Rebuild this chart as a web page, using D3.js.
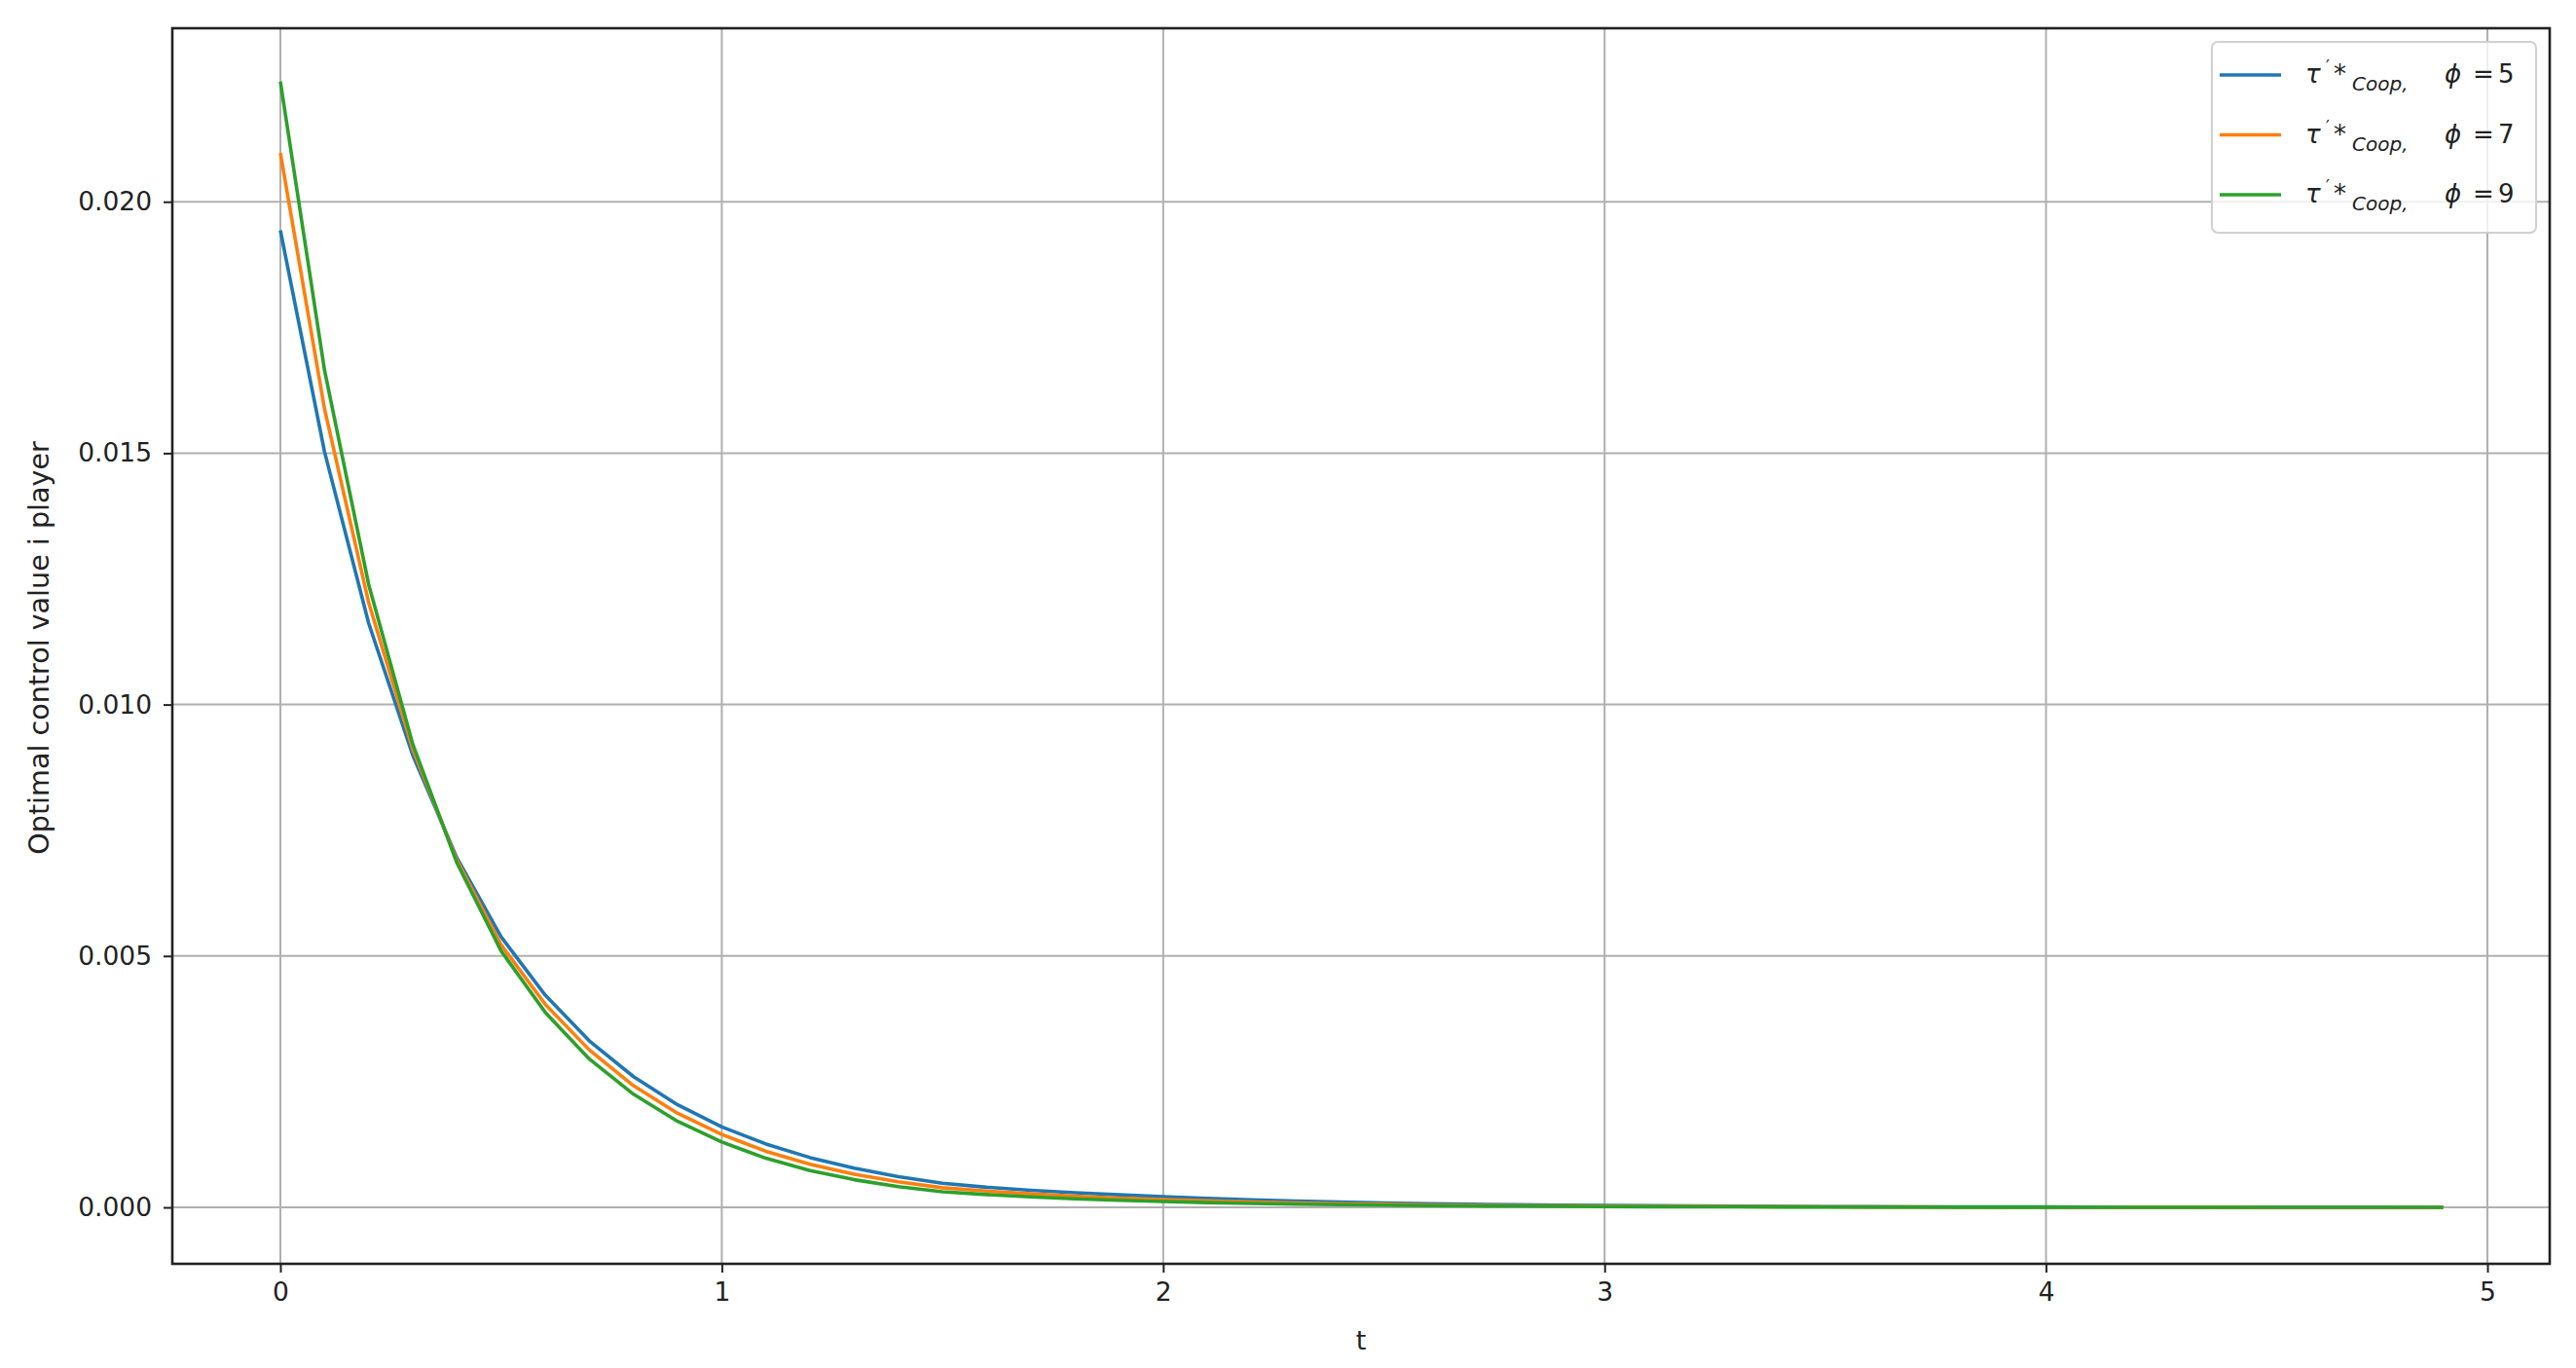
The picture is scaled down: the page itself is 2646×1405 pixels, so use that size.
<!doctype html>
<html>

<head>
  <meta charset="utf-8">
  <style>
    body { margin: 0; background: #fff; }
    text { font-family: "DejaVu Sans", sans-serif; }
  </style>
</head>

<body>
  <svg id="chart"></svg>
</body>
<script src="https://d3js.org/d3.v7.min.js"></script>
<script>
    // time grid
    const tValues = [0.0, 0.1, 0.2, 0.3, 0.4, 0.5, 0.6, 0.7, 0.8, 0.9,
      1.0, 1.1, 1.2, 1.3, 1.4, 1.5, 1.6, 1.7, 1.8, 1.9,
      2.0, 2.1, 2.2, 2.3, 2.4, 2.5, 2.6, 2.7, 2.8, 2.9,
      3.0, 3.1, 3.2, 3.3, 3.4, 3.5, 3.6, 3.7, 3.8, 3.9,
      4.0, 4.1, 4.2, 4.3, 4.4, 4.5, 4.6, 4.7, 4.8, 4.9];

    // optimal control, phi = 5
    const phi5 = [0.01943, 0.01503, 0.01162, 0.00899, 0.00695, 0.00538, 0.00422, 0.00331, 0.00260, 0.00204,
      0.00160, 0.00126, 0.00099, 0.00078, 0.00061, 0.00048, 0.00040, 0.00034, 0.00029, 0.00025,
      0.00021, 0.00018, 0.00015, 0.000125, 0.000105, 0.000088, 0.000074, 0.000062, 0.000052, 0.000044,
      0.000037, 0.000031, 0.000026, 0.000022, 0.000018, 0.000015, 0.000013, 0.000011, 0.000009, 0.000008,
      0.0000065, 0.0000055, 0.0000046, 0.0000039, 0.0000033, 0.0000027, 0.0000023, 0.0000019, 0.0000016, 0.0000014];

    // phi = 7
    const phi7 = [0.02097, 0.01588, 0.01203, 0.00911, 0.00690, 0.00522, 0.00404, 0.00313, 0.00242, 0.00187,
      0.00145, 0.001115, 0.000857, 0.000659, 0.000507, 0.00039, 0.000324, 0.000269, 0.000223, 0.000185,
      0.000154, 0.000128, 0.000106, 0.000088, 0.000073, 0.000061, 0.000050, 0.000042, 0.000035, 0.000029,
      0.000024, 0.000020, 0.0000165, 0.0000137, 0.0000114, 0.0000094, 0.0000078, 0.0000065, 0.0000054, 0.0000045,
      0.0000037, 0.0000031, 0.0000026, 0.0000021, 0.0000018, 0.0000015, 0.0000012, 0.0000010, 0.0000008, 0.0000007];

    // phi = 9
    const phi9 = [0.02239, 0.01665, 0.01239, 0.00921, 0.00685, 0.00510, 0.00388, 0.00295, 0.00225, 0.00171,
      0.00130, 0.000976, 0.000733, 0.000550, 0.000413, 0.00031, 0.000254, 0.000208, 0.000171, 0.000140,
      0.000115, 0.000094, 0.000077, 0.000063, 0.000052, 0.000043, 0.000035, 0.000029, 0.000024, 0.000019,
      0.000016, 0.000013, 0.000011, 0.0000090, 0.0000073, 0.0000060, 0.0000049, 0.0000040, 0.0000033, 0.0000027,
      0.0000022, 0.0000018, 0.0000015, 0.0000012, 0.0000010, 0.0000008, 0.0000007, 0.0000006, 0.0000005, 0.0000004];

    const phiLabels = ["5", "7", "9"];
    const xTicks = [0, 1, 2, 3, 4, 5];
    const yTicks = [0.000, 0.005, 0.010, 0.015, 0.020];

    const seriesList = [
      { phi: phiLabels[0], values: phi5, color: "#1f77b4" },
      { phi: phiLabels[1], values: phi7, color: "#ff7f0e" },
      { phi: phiLabels[2], values: phi9, color: "#2ca02c" }
    ];

    const width = 2646, height = 1405;
    const plotLeft = 177, plotRight = 2619, plotTop = 29, plotBottom = 1298;

    const svg = d3.select("#chart").attr("width", width).attr("height", height);

    // matplotlib style 5% margins
    const xScale = d3.scaleLinear().domain([-0.2448, 5.1411]).range([plotLeft, plotRight]);
    const yScale = d3.scaleLinear().domain([-0.001123, 0.023451]).range([plotBottom, plotTop]);

    // grid
    const grid = svg.append("g").attr("class", "grid");
    grid.selectAll("line.vx")
      .data(xTicks)
      .enter()
      .append("line")
      .attr("x1", d => xScale(d)).attr("x2", d => xScale(d))
      .attr("y1", plotTop).attr("y2", plotBottom)
      .attr("stroke", "#b0b0b0")
      .attr("stroke-width", 2)
    grid.selectAll("line.hy")
      .data(yTicks)
      .enter()
      .append("line")
      .attr("x1", plotLeft).attr("x2", plotRight)
      .attr("y1", d => yScale(d)).attr("y2", d => yScale(d))
      .attr("stroke", "#b0b0b0")
      .attr("stroke-width", 2)

    // curves
    const line = d3.line()
      .x((d, i) => xScale(tValues[i]))
      .y(d => yScale(d))

    svg.append("g")
      .selectAll("path")
      .data(seriesList)
      .enter()
      .append("path")
      .attr("d", d => line(d.values))
      .attr("fill", "none")
      .attr("stroke", d => d.color)
      .attr("stroke-width", 3.6)
      .attr("stroke-linejoin", "round")

    // axes
    const xAxis = d3.axisBottom(xScale).tickValues(xTicks).tickFormat(d3.format("d")).tickSize(9).tickPadding(10);
    const yAxis = d3.axisLeft(yScale).tickValues(yTicks).tickFormat(d3.format(".3f")).tickSize(9).tickPadding(12);

    const gx = svg.append("g").attr("transform", `translate(0,${plotBottom})`).call(xAxis);
    const gy = svg.append("g").attr("transform", `translate(${plotLeft},0)`).call(yAxis);
    [gx, gy].forEach(g => {
      g.select(".domain").remove();
      g.selectAll(".tick line").attr("stroke", "#222").attr("stroke-width", 2);
      g.selectAll(".tick text").attr("fill", "#222").style("font-size", "26.5px");
    });

    // frame
    svg.append("rect")
      .attr("x", plotLeft).attr("y", plotTop)
      .attr("width", plotRight - plotLeft).attr("height", plotBottom - plotTop)
      .attr("fill", "none")
      .attr("stroke", "#222")
      .attr("stroke-width", 2.6)

    // axis labels
    svg.append("text")
      .attr("x", (plotLeft + plotRight) / 2).attr("y", 1386)
      .attr("text-anchor", "middle")
      .attr("fill", "#222")
      .style("font-size", "27px")
      .text("t")
    svg.append("text")
      .attr("transform", `translate(50,${(plotTop + plotBottom) / 2 + 2}) rotate(-90)`)
      .attr("text-anchor", "middle")
      .attr("fill", "#222")
      .style("font-size", "28.6px")
      .text("Optimal control value i player")

    // legend
    const legend = svg.append("g");
    legend.append("rect")
      .attr("x", 2272).attr("y", 43)
      .attr("width", 333).attr("height", 196)
      .attr("rx", 6)
      .attr("fill", "#fff").attr("fill-opacity", 0.8)
      .attr("stroke", "#d0d0d0").attr("stroke-width", 2)

    const rows = legend.selectAll("g.row")
      .data(seriesList)
      .enter()
      .append("g")
      .attr("transform", (d, i) => `translate(0,${77 + i * 61.5})`)
    rows.append("line")
      .attr("x1", 2280).attr("x2", 2343)
      .attr("stroke", d => d.color)
      .attr("stroke-width", 3.6)
    const lab = rows.append("text")
      .attr("y", 8)
      .attr("fill", "#222")
      .style("font-size", "26px")
    lab.append("tspan").attr("x", 2368).style("font-style", "italic").text("τ")
    lab.append("tspan").attr("x", 2389).attr("dy", -11).style("font-size", "17px").text("′")
    lab.append("tspan").attr("x", 2397).attr("dy", 11).text("*")
    lab.append("tspan").attr("x", 2416).attr("dy", 8).style("font-size", "20px").style("font-style", "italic").text("Coop,")
    lab.append("tspan").attr("x", 2511).attr("dy", -8).style("font-style", "italic").text("ϕ")
    lab.append("tspan").attr("x", 2540).text("=")
    lab.append("tspan").attr("x", 2566).text(d => d.phi)

</script>

</html>
